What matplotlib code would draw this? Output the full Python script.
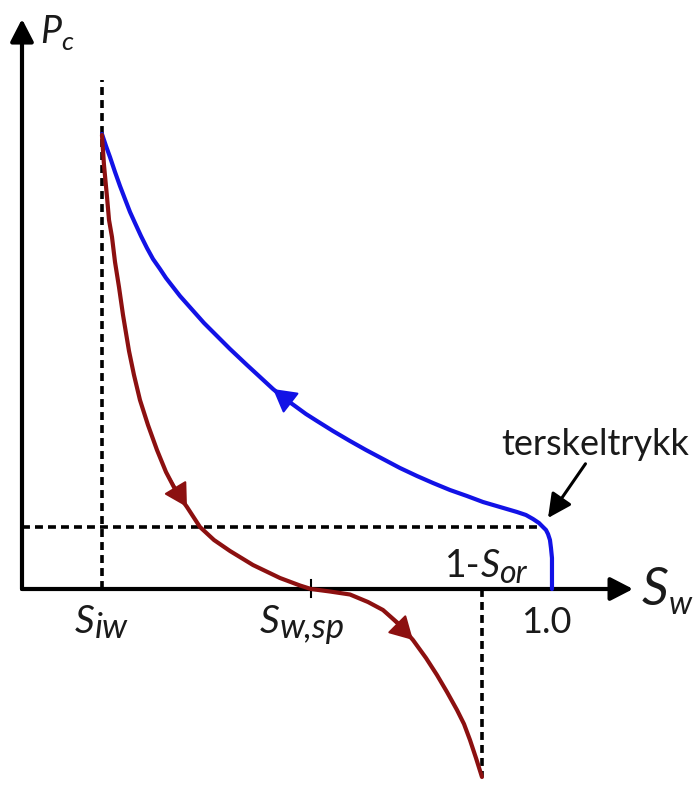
import matplotlib
matplotlib.use("Agg")
import matplotlib.pyplot as plt
from matplotlib.transforms import IdentityTransform

plt.rcParams["font.family"] = ["Lato", "DejaVu Sans"]

# Primary drainage curve, ordered by water saturation
drain_sw = [0.1509, 0.1585, 0.1660, 0.1755, 0.1849, 0.1943, 0.2038, 0.2132, 0.2245, 0.2358,
            0.2472, 0.2604, 0.2717, 0.2849, 0.2981, 0.3132, 0.3283, 0.3434, 0.3604, 0.3925,
            0.4245, 0.4491, 0.4736, 0.4943, 0.5151, 0.5358, 0.5566, 0.5868, 0.6189, 0.6491,
            0.6811, 0.7132, 0.7453, 0.7755, 0.8075, 0.8396, 0.8698, 0.9019, 0.9340, 0.9509,
            0.9642, 0.9755, 0.9830, 0.9887, 0.9925, 0.9962, 0.9981, 1.0000, 1.0000, 1.0000]
drain_pc = [4.55, 4.43, 4.32, 4.17, 4.03, 3.90, 3.77, 3.66, 3.53, 3.41,
            3.30, 3.20, 3.11, 3.02, 2.93, 2.84, 2.75, 2.66, 2.57, 2.40,
            2.24, 2.12, 2.00, 1.91, 1.83, 1.75, 1.68, 1.58, 1.48, 1.39,
            1.30, 1.21, 1.13, 1.06, 0.99, 0.93, 0.87, 0.82, 0.77, 0.74,
            0.70, 0.66, 0.62, 0.59, 0.55, 0.49, 0.41, 0.31, 0.17, 0.00]

# Imbibition curve, from S_iw towards 1 - S_or
imb_sw = [0.1509, 0.1547, 0.1604, 0.1642, 0.1698, 0.1755, 0.1830, 0.1906, 0.2019, 0.2113,
          0.2226, 0.2377, 0.2547, 0.2717, 0.2925, 0.3113, 0.3358, 0.3623, 0.3925, 0.4358,
          0.4868, 0.5245, 0.5453, 0.5811, 0.6189, 0.6528, 0.6811, 0.7132, 0.7377, 0.7623,
          0.7830, 0.8019, 0.8208, 0.8340, 0.8453, 0.8566, 0.8679]
imb_pc = [4.54, 4.24, 3.92, 3.69, 3.52, 3.27, 3.02, 2.74, 2.38, 2.14,
          1.89, 1.64, 1.39, 1.17, 0.96, 0.82, 0.62, 0.49, 0.38, 0.24,
          0.11, 0.035, 0.00, -0.025, -0.055, -0.13, -0.21, -0.36, -0.51, -0.69,
          -0.86, -1.03, -1.21, -1.35, -1.51, -1.69, -1.88]

s_iw = 0.1509          # irreducible water saturation
s_wsp = 0.5453         # end of spontaneous imbibition
s_or_end = 0.8679      # 1 - S_or
sw_entry, pc_entry = 0.983, 0.62   # threshold pressure
siw_line_top = 5.09

fig = plt.figure(figsize=(6.99, 7.87), dpi=100)
ax = fig.add_axes([0, 0, 1, 1])
ax.set_xlim(-0.0415, 1.2774)
ax.set_ylim(-1.98, 5.89)
ax.axis("off")

# coordinate axes with arrow heads
arrow_kw = dict(arrowstyle="-|>,head_length=0.62,head_width=0.32", color="black",
                lw=3, mutation_scale=22, shrinkA=0, shrinkB=0)
ax.annotate("", xy=(0, 5.70), xytext=(0, 0), arrowprops=arrow_kw)
ax.annotate("", xy=(1.153, 0), xytext=(0, 0), arrowprops=arrow_kw)

# dashed guide lines
dash_kw = dict(color="black", lw=2.6, dashes=(2.2, 1.4))
ax.plot([s_iw, s_iw], [0, siw_line_top], **dash_kw)
ax.plot([0, sw_entry], [pc_entry, pc_entry], **dash_kw)
ax.plot([s_or_end, s_or_end], [0, imb_pc[-1]], **dash_kw)

# curves
blue = "#1212e6"
red = "#8c1010"
ax.plot(drain_sw, drain_pc, color=blue, lw=3, solid_capstyle="round",
        solid_joinstyle="round", zorder=3)
ax.plot(imb_sw, imb_pc, color=red, lw=3, solid_capstyle="round",
        solid_joinstyle="round", zorder=3)


def curve_arrow(sw, pc, tip, tail, color):
    ax.annotate("", xy=(sw[tip], pc[tip]), xytext=(sw[tail], pc[tail]),
                arrowprops=dict(arrowstyle="-|>,head_length=0.8,head_width=0.45",
                                color=color, lw=1.5, mutation_scale=18,
                                shrinkA=0, shrinkB=0), zorder=4)


# drainage runs towards low saturation, imbibition towards high saturation
curve_arrow(drain_sw, drain_pc, 22, 24, blue)
curve_arrow(imb_sw, imb_pc, 15, 13, red)
curve_arrow(imb_sw, imb_pc, 28, 26, red)

# tick at S_w,sp
ax.plot([s_wsp, s_wsp], [0.09, -0.08], color="black", lw=1.5)

txt = "#1a1a1a"
renderer = fig.canvas.get_renderer()


def seq_text(x, y, parts):
    """Lay out (text, size, style, drop_px) pieces one after another from a data point."""
    cx, y0 = ax.transData.transform((x, y))
    for s, size, style, drop in parts:
        t = ax.text(cx, y0 - drop, s, fontsize=size, style=style, color=txt,
                    ha="left", va="baseline", transform=IdentityTransform())
        cx = t.get_window_extent(renderer=renderer).x1


seq_text(0.034, 5.46, [("P", 27, "italic", 0), ("c", 19, "italic", 7)])
seq_text(1.170, -0.16, [("S", 38, "italic", 0), ("w", 23, "italic", 9)])
seq_text(0.100, -0.44, [("S", 28, "italic", 0), ("iw", 25, "italic", 5)])
seq_text(0.449, -0.44, [("S", 28, "italic", 0), ("w,sp", 25, "italic", 5)])
seq_text(0.798, 0.12, [("1-", 27, "normal", 0), ("S", 27, "italic", 0),
                       ("or", 23, "italic", 6)])
ax.text(0.99, -0.44, "1.0", fontsize=26, color=txt, ha="center", va="baseline")

ax.annotate("terskeltrykk", xy=(0.9925, 0.71), xytext=(1.081, 1.34),
            fontsize=26, color=txt, ha="center", va="baseline",
            arrowprops=dict(arrowstyle="-|>,head_length=0.8,head_width=0.4",
                            color="black", lw=2.2, mutation_scale=18,
                            shrinkA=0, shrinkB=0, relpos=(0.46, 0)))

fig.savefig("out.png", dpi=100)
